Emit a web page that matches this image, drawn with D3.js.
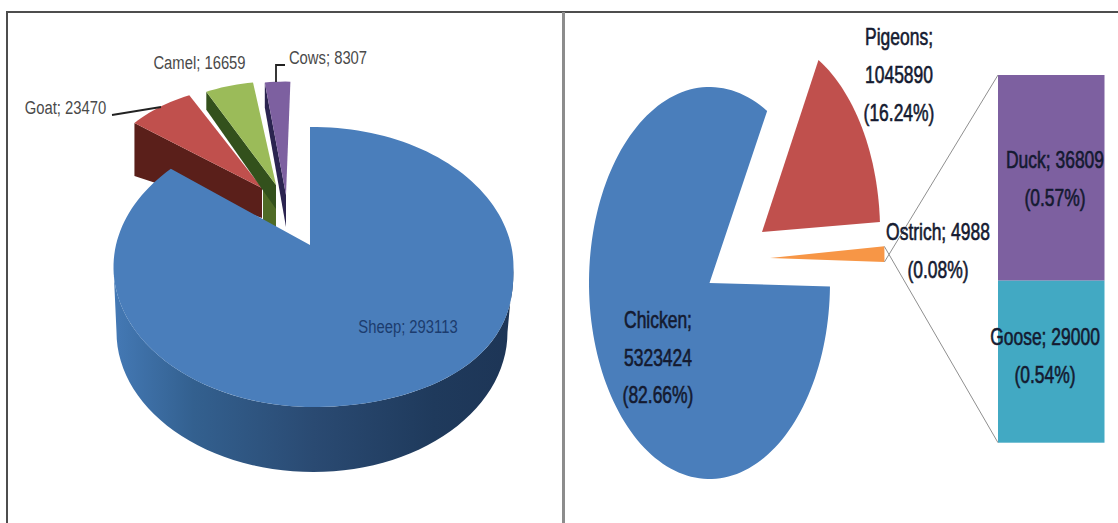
<!DOCTYPE html>
<html>
<head>
<meta charset="utf-8">
<script src="https://cdn.jsdelivr.net/npm/d3@7"></script>
<style>
  html, body { margin: 0; padding: 0; background: #fff; }
  svg { display: block; }
  text { font-family: "Liberation Sans", sans-serif; }
</style>
</head>
<body>
<svg id="chart" width="1118" height="523"></svg>
<script>
// Livestock counts (3D exploded pie)
const livestockNames = ["Sheep", "Goat", "Camel", "Cows"];
const livestockValues = [293113, 23470, 16659, 8307];

// Poultry counts (bar-of-pie)
const poultryNames = ["Chicken", "Pigeons", "Ostrich", "Duck", "Goose"];
const poultryValues = [5323424, 1045890, 4988, 36809, 29000];
const poultryShares = ["82.66", "16.24", "0.08", "0.57", "0.54"];

const livestockColors = ["#4a7ebb", "#c0504d", "#9bbb59", "#7d60a0"];
const poultryColors = ["#4a7ebb", "#c0504d", "#f79646", "#7d60a0", "#42a9c3"];

const svg = d3.select("#chart");
const rad = d => d * Math.PI / 180;

// Point on a flattened circle; angle 0 is up, growing clockwise
const onEllipse = (c, rx, ry, a) => [c[0] + rx * Math.sin(a), c[1] - ry * Math.cos(a)];
const outline = d3.line();

function wedge(apex, rx, ry, a0, a1) {
  const n = Math.max(4, Math.ceil(Math.abs(a1 - a0) / rad(2)));
  const rim = d3.range(n + 1).map(i => onEllipse(apex, rx, ry, a0 + (a1 - a0) * i / n));
  return { rim, d: outline([apex, ...rim]) + "Z" };
}
const shift = (p, dy, dx = 0) => [p[0] + dx, p[1] + dy];

// ---------- frame ----------
const frame = svg.append("g").attr("fill", "none");
frame.append("path").attr("d", "M7,523V12H1118").attr("stroke", "#4d4d4d").attr("stroke-width", 2);
frame.append("path").attr("d", "M563.5,12V523").attr("stroke", "#8c8c8c").attr("stroke-width", 3);

// ---------- left: 3D pie ----------
const pieLeft = d3.pie().sort(null).startAngle(rad(-1.5)).endAngle(rad(358.5));
const leftArcs = pieLeft(livestockValues);

const topCentre = [313.5, 267];
const topRx = 200, topRy = 140;
const sheepApex = [310, 245];
const depth = 65;

// The large slice sits off-centre in perspective, so its rim angle is rescaled
const sheepRim = d3.scaleLinear()
  .domain([leftArcs[0].startAngle, leftArcs[0].endAngle])
  .range([rad(-1), rad(314.5)]);

// Front-right quarter of the top face bulges slightly under the perspective
function topRimPoint(a) {
  const [x, y] = onEllipse(topCentre, topRx, topRy, a);
  const turn = ((a % (2 * Math.PI)) + 2 * Math.PI) % (2 * Math.PI);
  if (turn <= Math.PI / 2 || turn >= Math.PI) return [x, y];
  return [x, topCentre[1] + topRy * Math.pow(-Math.cos(turn), 0.8)];
}

// Exploded slices: apex, radial scales, rotation and visible side heights
const exploded = [
  { i: 1, apex: [262, 188], kx: 0.82, ky: 0.74, turn: 1.5, hRim: 53, hApex: 30, side: "#5a1f1a" },
  { i: 2, apex: [276, 185], kx: 0.80, ky: 0.74, turn: 2, hRim: 18, hApex: 24, side: "#33511c" },
  { i: 3, apex: [286, 195], kx: 0.84, ky: 0.81, turn: 3, hRim: 25, hApex: 32, side: "#2b2450" }
];

const leftG = svg.append("g");
exploded.forEach(s => {
  const a = leftArcs[s.i];
  const w = wedge(s.apex, topRx * s.kx, topRy * s.ky, a.startAngle + rad(s.turn), a.endAngle + rad(s.turn));
  const p0 = w.rim[0];
  if (s.i === 2) {
    leftG.append("path")
      .attr("d", outline([shift(s.apex, 5, -13), s.apex, shift(s.apex, 52), shift(s.apex, 45, -13)]) + "Z")
      .attr("fill", "#4f6b26");
  }
  leftG.append("path")
    .attr("d", outline([p0, shift(p0, s.hRim), shift(s.apex, s.hApex), s.apex]) + "Z")
    .attr("fill", s.side);
  leftG.append("path").attr("d", w.d).attr("fill", livestockColors[s.i]);
});

// Rim of the large slice, shaded from left to right
const defs = svg.append("defs");
const sideStops = [[0, "#4479b5"], [0.2, "#33608f"], [0.5, "#2a4a72"], [0.8, "#1f3a5c"], [1, "#1d3556"]];
defs.append("linearGradient").attr("id", "sheepSide")
  .attr("gradientUnits", "userSpaceOnUse")
  .attr("x1", topCentre[0] - topRx).attr("x2", topCentre[0] + topRx)
  .attr("y1", 0).attr("y2", 0)
  .selectAll("stop").data(sideStops).join("stop")
  .attr("offset", d => d[0]).attr("stop-color", d => d[1]);

const sweep = d3.range(90, 271, 3).map(rad);
const upperRim = sweep.map(topRimPoint);
const lowerRim = sweep
  .map(a => onEllipse(shift(topCentre, depth), a <= Math.PI ? topRx - 6 : topRx - 3, topRy, a))
  .reverse();
leftG.append("path").attr("d", outline([...upperRim, ...lowerRim]) + "Z").attr("fill", "url(#sheepSide)");

const sheepAngles = d3.range(0, 161).map(i => sheepRim(leftArcs[0].startAngle + (leftArcs[0].endAngle - leftArcs[0].startAngle) * i / 160));
leftG.append("path")
  .attr("d", outline([sheepApex, ...sheepAngles.map(topRimPoint)]) + "Z")
  .attr("fill", livestockColors[0]);

// Leader lines
leftG.append("path").attr("d", "M112,115L161,107").attr("fill", "none").attr("stroke", "#222").attr("stroke-width", 1.8);
leftG.append("path").attr("d", "M276,82V65H285").attr("fill", "none").attr("stroke", "#222").attr("stroke-width", 1.8);

// Labels are set in a condensed width
const leftLabelAt = [[408, 326], [65.5, 107], [199.5, 62], [328, 57]];
svg.append("g").selectAll("text").data(livestockNames).join("text")
  .attr("transform", (d, i) => `translate(${leftLabelAt[i][0]},${leftLabelAt[i][1]}) scale(0.78,1)`)
  .attr("dy", "0.35em").attr("text-anchor", "middle").attr("font-size", 19)
  .attr("fill", (d, i) => i === 0 ? "#1c3c6e" : "#4a4a4a")
  .text((d, i) => `${d}; ${livestockValues[i]}`);

// ---------- right: bar of pie ----------
const stackNames = [3, 4];
const restTotal = d3.sum(poultryValues.slice(2));
const mainSlices = [poultryValues[0], poultryValues[1], restTotal];
const pieRight = d3.pie().sort(null).startAngle(rad(91)).endAngle(rad(451));
const rightArcs = pieRight(mainSlices);

const ringRx = 120.5, ringRy = 196;
const rightSlices = [
  { apex: [709.5, 283], kx: 1, ky: 1 },
  { apex: [762, 232], kx: 0.98, ky: 1 },
  { apex: [770, 258], kx: 0.95, ky: 1.15 }
];
const rightG = svg.append("g");
const wedges = rightSlices.map((s, i) => wedge(s.apex, ringRx * s.kx, ringRy * s.ky, rightArcs[i].startAngle, rightArcs[i].endAngle));
rightG.selectAll("path.slice").data(wedges).join("path")
  .attr("class", "slice").attr("d", d => d.d)
  .attr("fill", (d, i) => poultryColors[i]);

// Stacked column for the smallest groups
const stackY = d3.scaleLinear()
  .domain([0, poultryValues[3] + poultryValues[4]])
  .range([75, 442.7]);
const stackX = 998, stackW = 106.5;
let running = 0;
stackNames.forEach(i => {
  rightG.append("rect").attr("x", stackX).attr("width", stackW)
    .attr("y", stackY(running)).attr("height", stackY(running + poultryValues[i]) - stackY(running))
    .attr("fill", poultryColors[i]);
  running += poultryValues[i];
});

// Connectors from the small slice to the column
const restRim = wedges[2].rim;
const rimA = restRim[restRim.length - 1], rimB = restRim[0];
[[rimA, [stackX, stackY.range()[0]]], [rimB, [stackX, stackY.range()[1]]]].forEach(seg => {
  rightG.append("path").attr("d", outline(seg)).attr("fill", "none").attr("stroke", "#8f8f8f").attr("stroke-width", 1);
});

const rightLabelAt = [
  { x: 658, y: [320, 358, 395] },
  { x: 899, y: [37, 75, 113] },
  { x: 938, y: [232, 270] },
  { x: 1055, y: [160, 198] },
  { x: 1045, y: [337, 375] }
];
const labelLines = i => i < 2
  ? [`${poultryNames[i]};`, `${poultryValues[i]}`, `(${poultryShares[i]}%)`]
  : [`${poultryNames[i]}; ${poultryValues[i]}`, `(${poultryShares[i]}%)`];

poultryNames.forEach((n, i) => {
  svg.append("g").selectAll("text").data(labelLines(i)).join("text")
    .attr("transform", (d, j) => `translate(${rightLabelAt[i].x},${rightLabelAt[i].y[j]}) scale(0.76,1)`)
    .attr("dy", "0.35em").attr("text-anchor", "middle").attr("font-size", 23)
    .attr("fill", "#141a30").attr("stroke", "#141a30").attr("stroke-width", 0.6)
    .text(d => d);
});
</script>
</body>
</html>
